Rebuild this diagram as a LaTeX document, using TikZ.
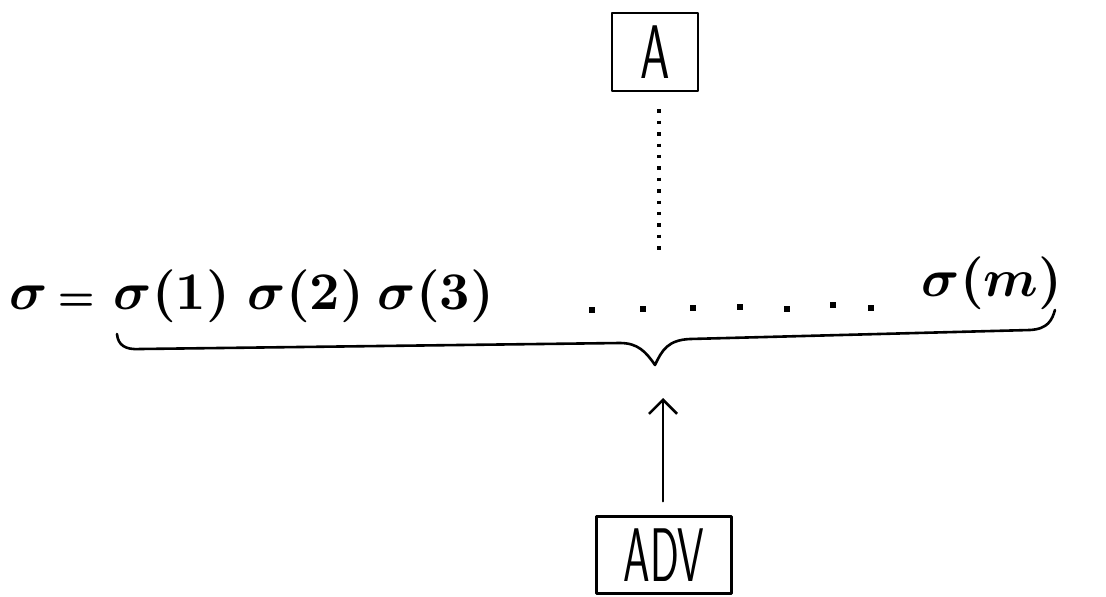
\documentclass[tikz,border=0pt]{standalone}
\usetikzlibrary{arrows.meta,calc}
% sequence terms set in bold math, enlarged
\newcommand\seqterm[1]{\scalebox{5.3}{\boldmath$#1$}}
\begin{document}
\begin{tikzpicture}[x=1pt,y=-1pt,
  ink/.style={line width=2.6pt,line cap=round,line join=round},
  tagbox/.style={draw,ink,inner sep=0pt,font=\fontsize{76}{76}\selectfont\sffamily},
  seq/.style={inner sep=0pt},
  dotmark/.style={rectangle,fill,inner sep=0pt,minimum size=6pt}]
\useasboundingbox (0,0) rectangle (1106,597);

% boxes
\node[tagbox,minimum width=86pt,minimum height=78pt] (A) at (655,52) {\scalebox{0.62}[1]{A}};
\node[tagbox,minimum width=135pt,minimum height=77pt] (adv) at (664,555) {\scalebox{0.56}[1]{ADV}};

% the sequence
\node[seq] (eq) at (52,298) {\seqterm{\sigma\,{\scriptstyle=}}};
\node[seq] (s1) at (172,296) {\seqterm{\sigma(1)}};
\node[seq] (s2) at (306,296) {\seqterm{\sigma(2)}};
\node[seq] (s3) at (436,296) {\seqterm{\sigma(3)}};
\node[seq] (sm) at (992,283) {\seqterm{\sigma(m)}};
\foreach \i/\x/\y in {1/592/310,2/643/309,3/693/308,4/740/307,5/787/309,6/833/305,7/871/308}
  \node[dotmark] (d\i) at (\x,\y) {};

% brace under the sequence
\coordinate (bl) at (117,334);
\coordinate (tip) at (655,365);
\coordinate (br) at (1055,310);
\draw[ink] (bl) .. controls (118,345) and (125,350) .. (140,349)
  -- (620,343) .. controls (638,343) and (646,352) .. (tip)
  .. controls (662,350) and (668,340) .. (690,339)
  -- (1030,330) .. controls (1048,329) and (1052,320) .. (br);

% connectors
\coordinate (dotend) at (659,257);
\draw[line width=3.4pt,dash pattern=on 3.4pt off 8pt] ($(A.south)+(4,17)$) -- (dotend);
\coordinate (arrowtip) at (663,398);
\draw[ink,-{Straight Barb[length=14pt,width=28pt,line width=2.6pt]}] ($(adv.north)+(-1,-14)$) -- (arrowtip);
\end{tikzpicture}
\end{document}
